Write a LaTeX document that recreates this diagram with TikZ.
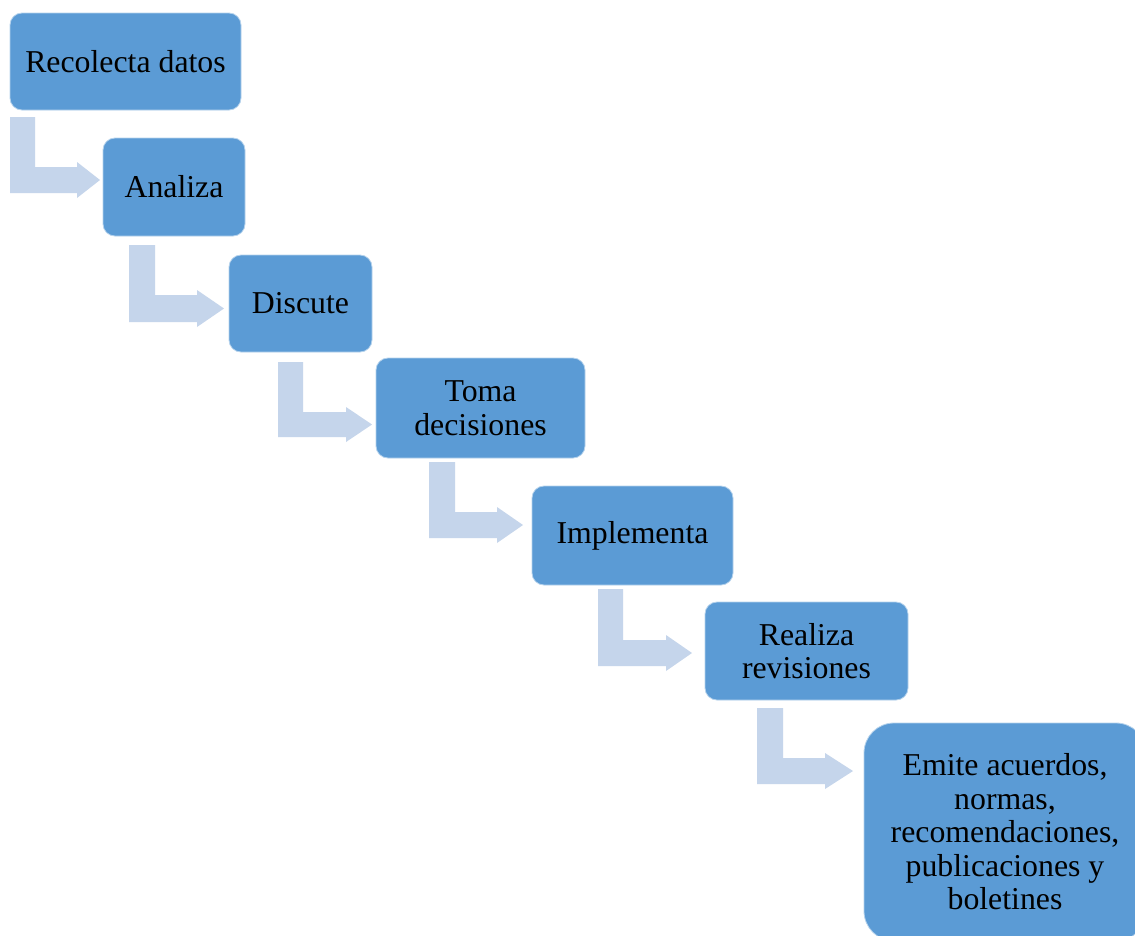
\documentclass[tikz,border=0pt]{standalone}
\usepackage{fontspec}
\setmainfont{Liberation Serif}
\definecolor{boxblue}{RGB}{91,155,213}
\definecolor{arrowblue}{RGB}{197,213,235}
\tikzset{
  x=1pt, y=-1pt,
  stepbox/.style={fill=boxblue, draw=white!55!boxblue, line width=0.8pt,
    rounded corners=12pt, align=center, inner sep=0pt, text=black,
    font=\fontsize{31.8}{33.5}\selectfont},
  bigbox/.style={stepbox, rounded corners=30pt},
  blockarrow/.style={fill=arrowblue, draw=none}
}
% #1 xl, #2 xr, #3 ytop, #4 bar top, #5 bar bottom, #6 head base x, #7 tip x
\newcommand{\bentarrow}[7]{%
  \fill[blockarrow] (#1,#3) -- (#2,#3) -- (#2,#4) -- (#6,#4) -- (#6,#4-5)
    -- (#7,{(#4+#5)/2}) -- (#6,#5+5) -- (#6,#5) -- (#1,#5) -- cycle;}
\begin{document}
\begin{tikzpicture}
\useasboundingbox (0,0) rectangle (1135,935);
\clip (0,0) rectangle (1135,935);
\fill[white] (0,0) rectangle (1135,935);

\node[stepbox, minimum width=231pt, minimum height=97pt] (b1) at (125.5,61.5) {Recolecta datos};
\node[stepbox, minimum width=142pt, minimum height=98pt] (b2) at (174,187) {Analiza};
\node[stepbox, minimum width=143pt, minimum height=97pt] (b3) at (300.5,303.5) {Discute};
\node[stepbox, minimum width=209pt, minimum height=100pt] (b4) at (480.5,408) {Toma\\decisiones};
\node[stepbox, minimum width=201pt, minimum height=99pt] (b5) at (632.5,535.5) {Implementa};
\node[stepbox, minimum width=203pt, minimum height=98pt] (b6) at (806.5,651) {Realiza\\revisiones};
\node[bigbox, minimum width=282pt, minimum height=218pt] (b7) at (1005,832) {Emite acuerdos,\\normas,\\recomendaciones,\\publicaciones y\\boletines};

\bentarrow{10}{35}{117}{167}{193}{77}{100}
\bentarrow{129}{155}{245}{295}{322}{197}{224}
\bentarrow{278}{303}{362}{412}{437}{346}{372}
\bentarrow{429}{455}{462}{512}{538}{497}{523}
\bentarrow{598}{623}{589}{640}{666}{666}{692}
\bentarrow{757}{783}{708}{758}{784}{825}{853}
\end{tikzpicture}
\end{document}
